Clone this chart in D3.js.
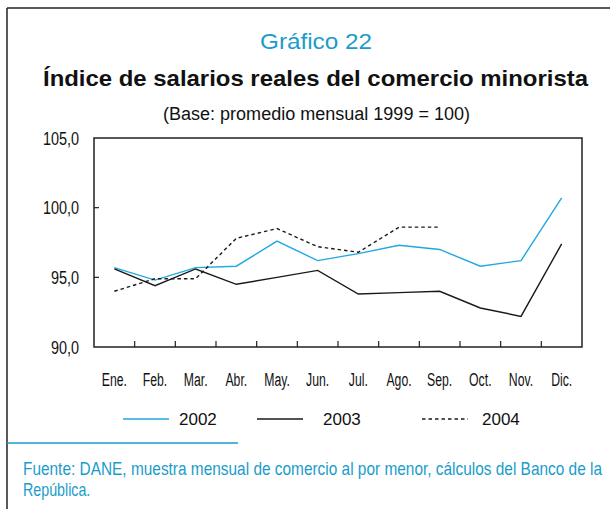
<!DOCTYPE html>
<html>
<head>
<meta charset="utf-8">
<script src="https://cdn.jsdelivr.net/npm/d3@7"></script>
<style>
  body { margin: 0; background: #fff; }
  svg { display: block; }
</style>
</head>
<body>
<div id="chart"></div>
<script>
const months = ["Ene.", "Feb.", "Mar.", "Abr.", "May.", "Jun.", "Jul.", "Ago.", "Sep.", "Oct.", "Nov.", "Dic."];
const values2002 = [95.7, 94.8, 95.7, 95.8, 97.6, 96.2, 96.7, 97.3, 97.0, 95.8, 96.2, 100.7];
const values2003 = [95.6, 94.4, 95.6, 94.5, 95.0, 95.5, 93.8, 93.9, 94.0, 92.8, 92.2, 97.4];
const values2004 = [94.0, 94.9, 94.9, 97.8, 98.5, 97.2, 96.8, 98.6, 98.6];
const yTicks = [90, 95, 100, 105];

const width = 610, height = 509;
const margin = { top: 138, right: 28, bottom: 162, left: 94 };
const innerWidth = width - margin.left - margin.right;
const innerHeight = height - margin.top - margin.bottom;

const BLUE = "#1ea9e1";
const TEAL = "#1a9ccb";
const SANS = "'Liberation Sans', Arial, Helvetica, sans-serif";

const series = [
    { name: "2002", values: values2002, color: BLUE, dash: null },
    { name: "2003", values: values2003, color: "#1a1a1a", dash: null },
    { name: "2004", values: values2004, color: "#1a1a1a", dash: "3.5,3" }
];

// squeeze text horizontally to mimic the condensed face of the original
const condense = (sel, factor) => {
    sel.each(function () {
        const len = this.getComputedTextLength();
        d3.select(this)
          .attr("textLength", len * factor)
          .attr("lengthAdjust", "spacingAndGlyphs");
    });
};

const svg = d3.select("#chart").append("svg")
              .attr("width", width)
              .attr("height", height);

// frame: top and left border
svg.append("line")
   .attr("x1", 7).attr("x2", width).attr("y1", 8).attr("y2", 8)
   .attr("stroke", "#222").attr("stroke-width", 1.5);
svg.append("line")
   .attr("x1", 7).attr("x2", 7).attr("y1", 8).attr("y2", height)
   .attr("stroke", "#222").attr("stroke-width", 1.5);

// titles
svg.append("text")
   .attr("x", 260).attr("y", 49)
   .attr("textLength", 112)
   .attr("lengthAdjust", "spacingAndGlyphs")
   .style("font-family", SANS)
   .style("font-size", "22px")
   .attr("fill", TEAL)
   .text("Gráfico 22");

svg.append("text")
   .attr("x", 43).attr("y", 86)
   .attr("textLength", 545)
   .attr("lengthAdjust", "spacingAndGlyphs")
   .style("font-family", SANS)
   .style("font-size", "22px")
   .style("font-weight", "bold")
   .attr("fill", "#111")
   .text("Índice de salarios reales del comercio minorista");

svg.append("text")
   .attr("x", 163).attr("y", 120)
   .attr("textLength", 307)
   .attr("lengthAdjust", "spacingAndGlyphs")
   .style("font-family", SANS)
   .style("font-size", "18px")
   .attr("fill", "#111")
   .text("(Base: promedio mensual 1999 = 100)");

const x = d3.scaleBand()
            .domain(months)
            .range([0, innerWidth]);

const y = d3.scaleLinear()
            .domain([90, 105])
            .range([innerHeight, 0]);

const g = svg.append("g")
             .attr("transform", `translate(${margin.left},${margin.top})`);

// plot box
g.append("rect")
 .attr("width", innerWidth)
 .attr("height", innerHeight)
 .attr("fill", "none")
 .attr("stroke", "#222")
 .attr("stroke-width", 1.5);

// x ticks between months, pointing up
g.selectAll(".xtick")
 .data(months.slice(1))
 .enter().append("line")
 .attr("class", "xtick")
 .attr("x1", d => x(d)).attr("x2", d => x(d))
 .attr("y1", innerHeight).attr("y2", innerHeight - 6)
 .attr("stroke", "#222")
 .attr("stroke-width", 1.2);

// y ticks, pointing inward
g.selectAll(".ytick")
 .data(yTicks.slice(1, -1))
 .enter().append("line")
 .attr("class", "ytick")
 .attr("x1", 0).attr("x2", 5)
 .attr("y1", d => y(d)).attr("y2", d => y(d))
 .attr("stroke", "#222")
 .attr("stroke-width", 1.2);

g.selectAll(".xlabel")
 .data(months)
 .enter().append("text")
 .attr("class", "xlabel")
 .attr("x", d => x(d) + x.bandwidth() / 2)
 .attr("y", innerHeight + 39)
 .attr("text-anchor", "middle")
 .style("font-family", SANS)
 .style("font-size", "18px")
 .attr("fill", "#111")
 .text(d => d)
 .call(condense, 0.68);

const fmt = d => d3.format(".1f")(d).replace(".", ",");

g.selectAll(".ylabel")
 .data(yTicks)
 .enter().append("text")
 .attr("class", "ylabel")
 .attr("x", -15)
 .attr("y", d => y(d))
 .attr("dy", "0.36em")
 .attr("text-anchor", "end")
 .style("font-family", SANS)
 .style("font-size", "18.5px")
 .attr("fill", "#111")
 .text(fmt)
 .call(condense, 0.78);

const line = d3.line()
               .x((d, i) => x(months[i]) + x.bandwidth() / 2)
               .y(d => y(d));

g.selectAll(".series")
 .data(series)
 .enter().append("path")
 .attr("class", "series")
 .attr("d", d => line(d.values))
 .attr("fill", "none")
 .attr("stroke", d => d.color)
 .attr("stroke-width", 1.4)
 .attr("stroke-dasharray", d => d.dash);

// legend
const legendX = [123, 257, 422];
const legendTextX = [179, 323, 482];
const legend = svg.append("g")
                  .attr("transform", "translate(0, 419)");

series.forEach((s, i) => {
    legend.append("line")
          .attr("x1", legendX[i]).attr("x2", legendX[i] + 46)
          .attr("y1", 0).attr("y2", 0)
          .attr("stroke", s.color)
          .attr("stroke-width", 1.4)
          .attr("stroke-dasharray", s.dash);

    legend.append("text")
          .attr("x", legendTextX[i])
          .attr("y", 6)
          .style("font-family", SANS)
          .style("font-size", "17px")
          .attr("fill", "#111")
          .text(s.name);
});

// footer
svg.append("line")
   .attr("x1", 7).attr("x2", 238).attr("y1", 443).attr("y2", 443)
   .attr("stroke", TEAL).attr("stroke-width", 1.5);

svg.append("text")
   .attr("x", 23).attr("y", 475)
   .attr("textLength", 579)
   .attr("lengthAdjust", "spacingAndGlyphs")
   .style("font-family", SANS)
   .style("font-size", "19px")
   .attr("fill", TEAL)
   .text("Fuente: DANE, muestra mensual de comercio al por menor, cálculos del Banco de la");

svg.append("text")
   .attr("x", 23).attr("y", 496)
   .style("font-family", SANS)
   .style("font-size", "19px")
   .attr("fill", TEAL)
   .text("República.")
   .call(condense, 0.75);
</script>
</body>
</html>
